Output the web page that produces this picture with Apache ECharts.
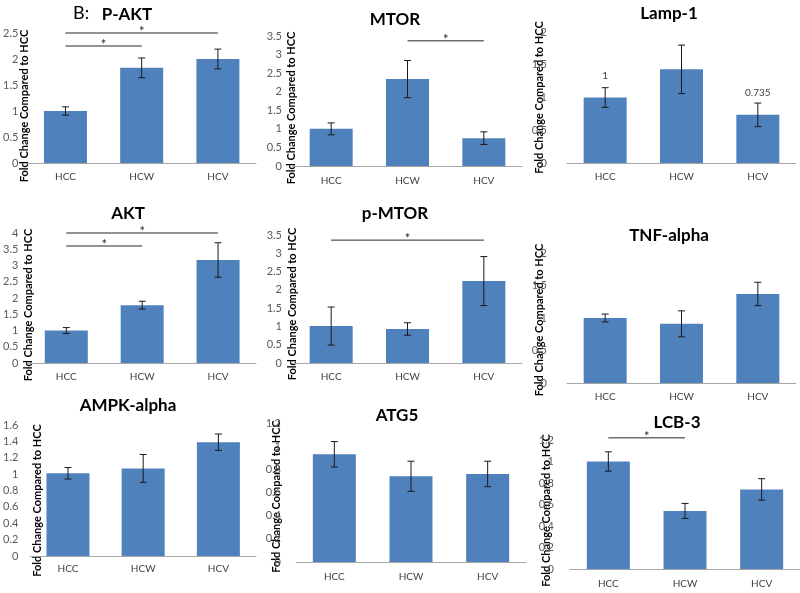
<!DOCTYPE html>
<html><head><meta charset="utf-8">
<script src="https://cdn.jsdelivr.net/npm/echarts@6/dist/echarts.min.js"></script>
<style>html,body{margin:0;padding:0;background:#fff}#c{width:800px;height:593px}</style>
</head><body><div id="c"></div>
<script>
// ---- data ----
const categories = ['HCC', 'HCW', 'HCV'];

const pAktValues = [1.0, 1.83, 2.0];
const pAktErrors = [0.08, 0.19, 0.19];
const pAktAxis = [0, 2.5, 0.5];
const pAktSig = [[0, 1, 2.25], [0, 2, 2.5]];

const mtorValues = [1.0, 2.34, 0.75];
const mtorErrors = [0.16, 0.5, 0.17];
const mtorAxis = [0, 3.5, 0.5];
const mtorSig = [[1, 2, 3.37]];

const lampValues = [1.0, 1.43, 0.735];
const lampErrors = [0.15, 0.37, 0.18];
const lampAxis = [0, 2, 0.5];
const lampLabels = ['1', '', '0.735'];

const aktValues = [1.0, 1.78, 3.17];
const aktErrors = [0.09, 0.12, 0.53];
const aktAxis = [0, 4, 0.5];
const aktSig = [[0, 1, 3.6], [0, 2, 4.0]];

const pMtorValues = [1.01, 0.93, 2.24];
const pMtorErrors = [0.52, 0.17, 0.67];
const pMtorAxis = [0, 3.5, 0.5];
const pMtorSig = [[0, 2, 3.36]];

const tnfValues = [1.0, 0.91, 1.37];
const tnfErrors = [0.06, 0.2, 0.18];
const tnfAxis = [0, 2, 0.5];

const ampkValues = [1.01, 1.07, 1.39];
const ampkErrors = [0.07, 0.17, 0.1];
const ampkAxis = [0, 1.6, 0.2];

const atg5Values = [0.93, 0.74, 0.76];
const atg5Errors = [0.11, 0.13, 0.11];
const atg5Axis = [0, 1.2, 0.2];

const lcbValues = [1.0, 0.54, 0.74];
const lcbErrors = [0.09, 0.07, 0.1];
const lcbAxis = [0, 1.2, 0.2];
const lcbSig = [[0, 1, 1.22]];

const yAxisName = 'Fold Change Compared to HCC';

// ---- layout ----
const panels = [
  {title: 'P-AKT', vals: pAktValues, errs: pAktErrors, axis: pAktAxis, sig: pAktSig, grid: [27, 33, 229, 130], tpos: [127, 6], gap: -3, pad: 16, lm: 9, xm: 9},
  {title: 'MTOR', vals: mtorValues, errs: mtorErrors, axis: mtorAxis, sig: mtorSig, grid: [293, 36, 229, 130], tpos: [395, 11], gap: -4, pad: 14, lm: 11, xm: 10},
  {title: 'Lamp-1', vals: lampValues, errs: lampErrors, axis: lampAxis, labels: lampLabels, grid: [567, 32, 229, 131], tpos: [669, 5], gap: 22, pad: 0, lm: 20, xm: 9},
  {title: 'AKT', vals: aktValues, errs: aktErrors, axis: aktAxis, sig: aktSig, grid: [27, 233, 229, 130], tpos: [128, 205], gap: -6, pad: 14, lm: 10, xm: 9},
  {title: 'p-MTOR', vals: pMtorValues, errs: pMtorErrors, axis: pMtorAxis, sig: pMtorSig, grid: [293, 235, 229, 128], tpos: [395, 205], gap: -5, pad: 10, lm: 11, xm: 9},
  {title: 'TNF-alpha', vals: tnfValues, errs: tnfErrors, axis: tnfAxis, grid: [567, 253, 229, 130], tpos: [669, 227], gap: 22, pad: 4, lm: 20, xm: 9},
  {title: 'AMPK-alpha', vals: ampkValues, errs: ampkErrors, axis: ampkAxis, grid: [27, 425, 229, 131], tpos: [128, 397], gap: -13, pad: 20, lm: 12, xm: 8},
  {title: 'ATG5', vals: atg5Values, errs: atg5Errors, axis: atg5Axis, grid: [296, 423, 230, 139], tpos: [397, 407], gap: 14, pad: 8, lm: 15, xm: 10},
  {title: 'LCB-3', vals: lcbValues, errs: lcbErrors, axis: lcbAxis, sig: lcbSig, grid: [570, 440, 230, 129], tpos: [677, 414], gap: 18, pad: 12, lm: 16, xm: 10}
];

const FONT = 'Lato, "Open Sans", sans-serif';
const BAR = '#4f81bd';

function errRender(params, api) {
  const x = api.value(0), v = api.value(1), e = api.value(2);
  const t = api.coord([x, v + e]), b = api.coord([x, v - e]);
  const cx = t[0];
  const st = {stroke: '#1a1a1a', lineWidth: 1};
  return {type: 'group', children: [
    {type: 'line', shape: {x1: cx, y1: t[1], x2: cx, y2: b[1]}, style: st},
    {type: 'line', shape: {x1: cx - 3.5, y1: t[1], x2: cx + 3.5, y2: t[1]}, style: st},
    {type: 'line', shape: {x1: cx - 3.5, y1: b[1], x2: cx + 3.5, y2: b[1]}, style: st}
  ]};
}

function sigRender(params, api) {
  const a = api.coord([api.value(0), api.value(2)]);
  const b = api.coord([api.value(1), api.value(2)]);
  return {type: 'group', children: [
    {type: 'line', shape: {x1: a[0], y1: a[1], x2: b[0], y2: b[1]}, style: {stroke: '#262626', lineWidth: 1}},
    {type: 'text', style: {text: '*', x: (a[0] + b[0]) / 2, y: a[1] - 1, align: 'center', verticalAlign: 'middle', fill: '#262626', font: '13px ' + FONT}}
  ]};
}

const option = {
  animation: false,
  backgroundColor: '#fff',
  title: [{text: 'B:', left: 73, top: 4, padding: 0, textStyle: {fontFamily: FONT, fontSize: 18, fontWeight: 'normal', color: '#000'}}],
  grid: [], xAxis: [], yAxis: [], series: []
};

panels.forEach((p, i) => {
  option.title.push({text: p.title, left: p.tpos[0], top: p.tpos[1], textAlign: 'center', padding: 0,
    textStyle: {fontFamily: FONT, fontSize: 17, fontWeight: 'bold', color: '#000'}});
  option.grid.push({left: p.grid[0], top: p.grid[1], width: p.grid[2], height: p.grid[3], containLabel: false});
  option.xAxis.push({type: 'category', gridIndex: i, data: categories,
    axisLine: {lineStyle: {color: '#a6a6a6', width: 1}}, axisTick: {show: false},
    axisLabel: {margin: p.xm, fontFamily: FONT, fontSize: 10, color: '#404040'}});
  option.yAxis.push({type: 'value', gridIndex: i, min: p.axis[0], max: p.axis[1], interval: p.axis[2],
    splitLine: {show: false}, axisLine: {show: false}, axisTick: {show: false},
    axisLabel: {margin: p.lm, fontFamily: FONT, fontSize: 11, color: '#595959'},
    name: yAxisName, nameLocation: 'middle', nameRotate: 90, nameGap: p.gap, nameMoveOverlap: false,
    nameTextStyle: {fontFamily: FONT, fontSize: 11, fontWeight: 'bold', color: '#000', padding: [0, p.pad, 0, 0]}});
  const barData = p.vals.map((v, k) => {
    if (p.labels && p.labels[k]) {
      return {value: v, label: {show: true, position: 'top', distance: 17, formatter: p.labels[k],
        fontFamily: FONT, fontSize: 10, color: '#404040'}};
    }
    return v;
  });
  option.series.push({type: 'bar', xAxisIndex: i, yAxisIndex: i, data: barData, barWidth: 43,
    itemStyle: {color: BAR}});
  option.series.push({type: 'custom', xAxisIndex: i, yAxisIndex: i, renderItem: errRender,
    encode: {x: 0, y: 1}, data: p.vals.map((v, k) => [k, v, p.errs[k]]), z: 5});
  if (p.sig) {
    option.series.push({type: 'custom', xAxisIndex: i, yAxisIndex: i, renderItem: sigRender,
      encode: {x: [0, 1], y: 2}, data: p.sig, z: 5});
  }
});

const chart = echarts.init(document.getElementById('c'), null, {renderer: 'canvas'});
chart.setOption(option);
</script>
</body></html>
